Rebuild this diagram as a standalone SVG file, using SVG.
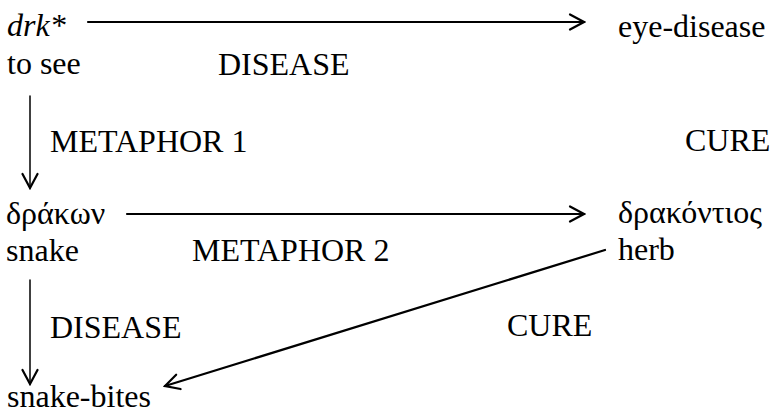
<svg xmlns="http://www.w3.org/2000/svg" width="771" height="416" viewBox="0 0 771 416">
<defs>
<style>
text{font-family:'Liberation Serif','Times New Roman',serif;font-size:32px;fill:#000}
.c{stroke:#000;fill:none;stroke-linecap:round}
.h{stroke-width:2.2}
.v{stroke-width:1.5}
</style>
<marker id="ah" viewBox="0 0 18 18" refX="16" refY="9" markerWidth="18" markerHeight="18" markerUnits="userSpaceOnUse" orient="auto">
<path d="M2,1.5 L16,9 L2,16.5" fill="none" stroke="#000" stroke-width="2.2" stroke-linecap="round" stroke-linejoin="miter"/>
</marker>
</defs>
<rect width="771" height="416" fill="#fff"/>
<g id="n-drk"><text x="7" y="36" font-style="italic">drk*</text><text x="7" y="74">to see</text></g>
<g id="n-eye"><text x="618" y="37">eye-disease</text></g>
<g id="n-drakon"><text x="6" y="224">δράκων</text><text x="6" y="261">snake</text></g>
<g id="n-drakontios"><text x="618" y="223">δρακόντιος</text><text x="618" y="260">herb</text></g>
<g id="n-bites"><text x="7" y="407">snake-bites</text></g>
<g id="labels">
<text x="218" y="75">DISEASE</text>
<text x="50" y="152">METAPHOR 1</text>
<text x="685" y="151">CURE</text>
<text x="192" y="261">METAPHOR 2</text>
<text x="50" y="338">DISEASE</text>
<text x="507" y="336">CURE</text>
</g>
<g id="connectors">
<line class="c h" x1="88" y1="22" x2="584" y2="22" marker-end="url(#ah)"/>
<line class="c v" x1="30" y1="96" x2="30" y2="188" marker-end="url(#ah)"/>
<line class="c h" x1="127" y1="214" x2="584" y2="214" marker-end="url(#ah)"/>
<line class="c v" x1="30" y1="280" x2="30" y2="384" marker-end="url(#ah)"/>
<line class="c h" x1="605" y1="250" x2="165" y2="386" marker-end="url(#ah)"/>
</g>
</svg>
